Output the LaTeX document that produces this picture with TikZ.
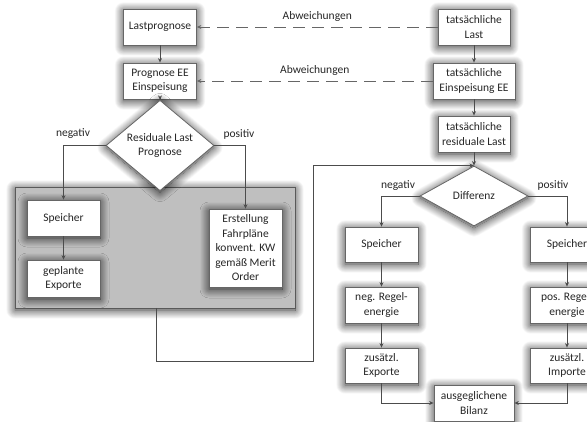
\documentclass[tikz,border=0pt]{standalone}
\usepackage{fontspec}
\setmainfont{Carlito}
\usetikzlibrary{shapes.geometric,arrows.meta,shadows.blur,calc}
\begin{document}
\begin{tikzpicture}[x=1pt,y=-1pt,
  font=\fontsize{11.5}{14.5}\selectfont,
  every node/.style={text=black!85},
  shd/.style={blur shadow={shadow xshift=0pt,shadow yshift=-2pt,shadow blur radius=9pt,shadow opacity=85,shadow blur steps=24}},
  box/.style={draw=black!60,line width=0.8pt,fill=white,shd,align=center,inner sep=1pt,minimum width=73pt,minimum height=36pt},
  dia/.style={diamond,draw=black!60,line width=0.8pt,fill=white,shd,align=center,inner sep=0pt,minimum width=108pt,minimum height=59pt},
  arr/.style={draw=black!70,line width=0.8pt,-{Stealth[length=4.5pt,width=4pt]}},
  ln/.style={draw=black!70,line width=0.8pt},
  dsh/.style={draw=black!60,line width=0.8pt,dash pattern=on 12pt off 7pt,-{Stealth[length=4.5pt,width=4pt]}},
  lbl/.style={inner sep=1pt}
]
\useasboundingbox (0,0) rectangle (587,422);
\begin{scope}
\clip (0,0) rectangle (587,422);
% gray group
\node[draw=black!65,line width=0.8pt,fill=gray!50,shd,minimum width=280pt,minimum height=121pt,inner sep=0pt] (grp) at (155,247.5) {};

% left column
\node[box] (lp) at (160,27) {Lastprognose};
\node[box] (pee) at (160,81) {Prognose EE\\Einspeisung};
\node[dia] (rl) at (160,145.5) {Residuale Last\\Prognose};
\node[box,minimum height=36pt] (sp1) at (63.5,218) {Speicher};
\node[box,minimum height=37pt] (ge) at (63.5,278.5) {geplante\\Exporte};
\node[box,minimum height=78pt] (erst) at (245.5,248) {Erstellung\\Fahrpläne\\konvent. KW\\gemäß Merit\\Order};

% right column
\node[box,minimum width=72pt] (tl) at (474,27) {tatsächliche\\Last};
\node[box,minimum width=82pt] (tee) at (474,81) {tatsächliche\\Einspeisung EE};
\node[box,minimum width=72pt] (trl) at (474,134) {tatsächliche\\residuale Last};
\node[dia,minimum height=60pt] (diff) at (474,196) {Differenz};
\node[box,minimum height=35pt] (sp2) at (381.5,244.5) {Speicher};
\node[box] (neg) at (381.5,305) {neg. Regel-\\energie};
\node[box,minimum height=35pt] (zex) at (381.5,365.5) {zusätzl.\\Exporte};
\node[box,minimum width=80pt] (bil) at (474,403) {ausgeglichene\\Bilanz};
\node[box,minimum height=35pt] (sp3) at (567,244.5) {Speicher};
\node[box] (pos) at (567,305) {pos. Regel-\\energie};
\node[box,minimum height=35pt] (zim) at (567,365.5) {zusätzl.\\Importe};

% connectors left
\draw[arr] (lp) -- (pee);
\draw[arr] (pee) -- (rl);
\draw[arr] (rl.west) -| (sp1.north);
\draw[arr] (rl.east) -| (erst.north);
\draw[arr] (sp1) -- (ge);
\node[lbl] (ln1) at (73,134) {negativ};
\node[lbl] (lp1) at (239,134) {positiv};

% feedback
\coordinate (g0) at (156,308);
\coordinate (g1) at (313,361);
\draw[arr] (g0) |- (g1) |- (diff.north);

% right column connectors
\draw[arr] (tl) -- (tee);
\draw[arr] (tee) -- (trl);
\draw[arr] (trl) -- (diff);
\draw[arr] (diff.west) -| (sp2.north);
\draw[arr] (diff.east) -| (sp3.north);
\node[lbl] (ln2) at (398,185.5) {negativ};
\node[lbl] (lp2) at (553,185.5) {positiv};
\draw[arr] (sp2) -- (neg);
\draw[arr] (neg) -- (zex);
\draw[arr] (zex.south) |- (bil.west);
\draw[arr] (sp3) -- (pos);
\draw[arr] (pos) -- (zim);
\draw[arr] (zim.south) |- (bil.east);

% dashed deviations
\draw[dsh] (tl.west) -- node[lbl,above=4pt] {Abweichungen} (lp.east);
\draw[dsh] (tee.west) -- node[lbl,above=4pt] {Abweichungen} (pee.east);
\end{scope}
\end{tikzpicture}
\end{document}
